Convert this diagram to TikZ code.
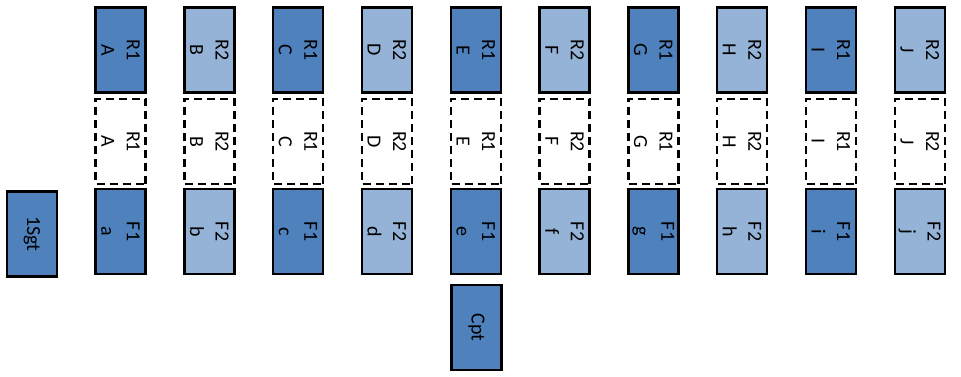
\documentclass[tikz,border=0pt]{standalone}
\usepackage{fontspec}
\setmainfont{Carlito}
\definecolor{darkblue}{RGB}{79,129,189}
\definecolor{lightblue}{RGB}{149,179,215}
\begin{document}
\begin{tikzpicture}[x=1pt,y=-1pt,
  unit/.style={draw=black, line width=2.4pt, rotate=-90, minimum width=85pt, minimum height=50pt,
    inner sep=0pt, align=center, font=\fontsize{20}{25.5}\selectfont},
  ghost/.style={unit, dash pattern=on 8pt off 5pt, fill=white}]
\useasboundingbox (0,0) rectangle (961,376);
\foreach \i/\U/\l/\n/\c in {0/A/a/1/darkblue,1/B/b/2/lightblue,2/C/c/1/darkblue,3/D/d/2/lightblue,4/E/e/1/darkblue,5/F/f/2/lightblue,6/G/g/1/darkblue,7/H/h/2/lightblue,8/I/i/1/darkblue,9/J/j/2/lightblue}{
  \node[unit, fill=\c] (t\i) at (120.5+88.8*\i, 50) {R\n\\\U};
  \node[ghost] (m\i) at (120.5+88.8*\i, 141.5) {R\n\\\U};
  \node[unit, fill=\c] (b\i) at (120.5+88.8*\i, 231.5) {F\n\\\l};
}
\node[unit, fill=darkblue] (sgt) at (32, 234) {1Sgt};
\node[unit, fill=darkblue] (cpt) at (476.5, 327.5) {Cpt};
\end{tikzpicture}
\end{document}
